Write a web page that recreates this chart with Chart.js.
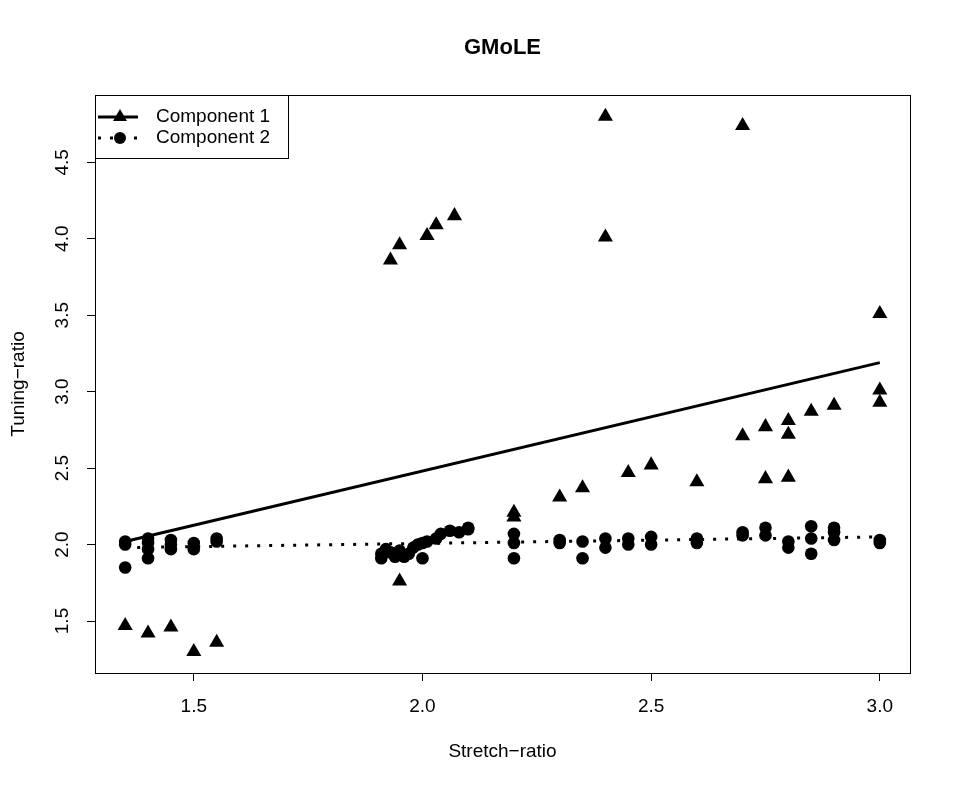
<!DOCTYPE html>
<html lang="en">
<head>
  <meta charset="UTF-8">
  <title>GMoLE</title>
  <script src="https://cdn.jsdelivr.net/npm/chart.js"></script>
  <style>
    body { margin: 0; background: #fff; }
    canvas { display: block; }
  </style>
</head>
<body>
  <canvas id="chart" width="959" height="790"></canvas>
  <script>
    // Component 1 (triangles)
    const comp1X = [1.35, 1.40, 1.45, 1.50, 1.55, 1.93, 1.95, 1.95, 2.01, 2.03, 2.07, 2.20, 2.20, 2.30, 2.35, 2.40, 2.40,
                    2.45, 2.50, 2.60, 2.70, 2.70, 2.75, 2.75, 2.80, 2.80, 2.80, 2.85, 2.90, 3.00, 3.00, 3.00];
    const comp1Y = [1.47, 1.42, 1.46, 1.30, 1.36, 3.86, 3.96, 1.76, 4.02, 4.09, 4.15, 2.21, 2.18, 2.31, 2.37, 4.80, 4.01,
                    2.47, 2.52, 2.41, 4.74, 2.71, 2.77, 2.43, 2.81, 2.72, 2.44, 2.87, 2.91, 3.51, 3.01, 2.93];

    // Component 2 (circles)
    const comp2X = [1.35, 1.35, 1.35, 1.40, 1.40, 1.40, 1.40, 1.45, 1.45, 1.45, 1.50, 1.50, 1.55, 1.55,
                    1.91, 1.91, 1.92, 1.93, 1.94, 1.95, 1.96, 1.97, 1.98, 1.99, 2.00, 2.00, 2.01, 2.03, 2.04, 2.06, 2.08, 2.10, 2.10,
                    2.20, 2.20, 2.20, 2.30, 2.30, 2.35, 2.35, 2.40, 2.40, 2.45, 2.45, 2.50, 2.50, 2.60, 2.60,
                    2.70, 2.70, 2.75, 2.75, 2.80, 2.80, 2.85, 2.85, 2.85, 2.90, 2.90, 2.90, 3.00, 3.00];
    const comp2Y = [2.02, 2.00, 1.85, 2.04, 2.01, 1.97, 1.91, 2.03, 2.00, 1.97, 2.01, 1.97, 2.04, 2.02,
                    1.94, 1.91, 1.97, 1.95, 1.92, 1.96, 1.92, 1.94, 1.98, 2.00, 1.91, 2.01, 2.02, 2.04, 2.07, 2.09, 2.08, 2.11, 2.10,
                    2.07, 2.01, 1.91, 2.03, 2.01, 2.02, 1.91, 2.04, 1.98, 2.04, 2.00, 2.05, 2.00, 2.04, 2.01,
                    2.08, 2.06, 2.11, 2.06, 2.02, 1.98, 2.12, 2.04, 1.94, 2.11, 2.08, 2.03, 2.03, 2.01];

    // fitted lines
    const fit1X = [1.35, 3.00];
    const fit1Y = [2.02, 3.19];
    const fit2X = [1.35, 3.00];
    const fit2Y = [1.98, 2.05];

    const xTicks = [1.5, 2.0, 2.5, 3.0];
    const yTicks = [1.5, 2.0, 2.5, 3.0, 3.5, 4.0, 4.5];

    const pts = (xs, ys) => xs.map((x, i) => ({ x: x, y: ys[i] }));

    const FONT = "'Liberation Sans', Arial, Helvetica, sans-serif";

    // title, frame and legend drawn R-style
    const decor = {
      id: 'decor',
      afterDraw(chart) {
        const ctx = chart.ctx;
        const a = chart.chartArea;
        ctx.save();
        ctx.strokeStyle = '#000';
        ctx.lineWidth = 1;
        ctx.strokeRect(a.left + 0.5, a.top + 0.5, a.right - a.left, a.bottom - a.top);

        ctx.fillStyle = '#000';
        ctx.font = "bold 22px " + FONT;
        ctx.textAlign = 'center';
        ctx.textBaseline = 'middle';
        ctx.fillText('GMoLE', (a.left + a.right) / 2, 48);

        // legend box
        const lx = a.left, ly = a.top;
        ctx.fillStyle = '#fff';
        ctx.fillRect(lx + 1, ly + 1, 192, 62);
        ctx.strokeRect(lx + 0.5, ly + 0.5, 193, 63);

        ctx.lineWidth = 3;
        ctx.beginPath();
        ctx.moveTo(lx + 3, ly + 22);
        ctx.lineTo(lx + 43, ly + 22);
        ctx.stroke();
        ctx.setLineDash([3, 9]);
        ctx.beginPath();
        ctx.moveTo(lx + 3, ly + 43);
        ctx.lineTo(lx + 43, ly + 43);
        ctx.stroke();
        ctx.setLineDash([]);

        ctx.fillStyle = '#000';
        const r = 8;
        ctx.beginPath();
        ctx.moveTo(lx + 25, ly + 22 - r);
        ctx.lineTo(lx + 25 + r * 0.866, ly + 22 + r * 0.5);
        ctx.lineTo(lx + 25 - r * 0.866, ly + 22 + r * 0.5);
        ctx.closePath();
        ctx.fill();
        ctx.beginPath();
        ctx.arc(lx + 25, ly + 43, 6, 0, Math.PI * 2);
        ctx.fill();

        ctx.font = "19px " + FONT;
        ctx.textAlign = 'left';
        ctx.fillText('Component 1', lx + 61, ly + 22);
        ctx.fillText('Component 2', lx + 61, ly + 43);
        ctx.restore();
      }
    };

    const axisCommon = {
      type: 'linear',
      grid: { drawOnChartArea: false, drawTicks: true, tickLength: 8, color: '#000', lineWidth: 1 },
      border: { display: false },
    };

    new Chart(document.getElementById('chart'), {
      type: 'scatter',
      data: {
        datasets: [
          { type: 'line', data: pts(fit1X, fit1Y), borderColor: '#000', borderWidth: 3, pointRadius: 0, fill: false },
          { type: 'line', data: pts(fit2X, fit2Y), borderColor: '#000', borderWidth: 3, borderDash: [3, 9], pointRadius: 0, fill: false },
          { data: pts(comp1X, comp1Y), pointStyle: 'triangle', pointRadius: 8.7, backgroundColor: '#000', borderWidth: 0 },
          { data: pts(comp2X, comp2Y), pointStyle: 'circle', pointRadius: 6.3, backgroundColor: '#000', borderWidth: 0 },
        ],
      },
      options: {
        responsive: false,
        animation: false,
        devicePixelRatio: 1,
        layout: { padding: { left: 0, right: 49, top: 95, bottom: 0 } },
        plugins: {
          legend: { display: false },
          title: { display: false },
          tooltip: { enabled: false },
        },
        scales: {
          x: {
            ...axisCommon,
            position: 'bottom',
            min: 1.284,
            max: 3.066,
            afterBuildTicks: (s) => { s.ticks = xTicks.map(v => ({ value: v })); },
            afterFit: (s) => { s.height = 117; },
            ticks: {
              color: '#000', font: { family: FONT, size: 19 }, padding: 14,
              maxRotation: 0, autoSkip: false, callback: (v) => v.toFixed(1),
            },
            title: {
              display: true, text: 'Stretch\u2212ratio', color: '#000',
              font: { family: FONT, size: 19 }, padding: { top: 27, bottom: 27 },
            },
          },
          y: {
            ...axisCommon,
            position: 'left',
            min: 1.16,
            max: 4.94,
            afterBuildTicks: (s) => { s.ticks = yTicks.map(v => ({ value: v })); },
            afterFit: (s) => { s.width = 95; },
            ticks: {
              color: '#000', font: { family: FONT, size: 19 }, padding: 11,
              minRotation: 90, maxRotation: 90, crossAlign: 'center',
              autoSkip: false, callback: (v) => v.toFixed(1),
            },
            title: {
              display: true, text: 'Tuning\u2212ratio', color: '#000',
              font: { family: FONT, size: 19 }, padding: { top: 7, bottom: 7 },
            },
          },
        },
      },
      plugins: [decor],
    });
  </script>
</body>
</html>
